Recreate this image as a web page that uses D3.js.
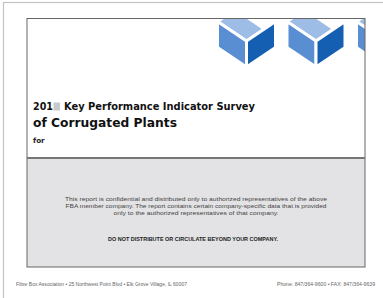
<!DOCTYPE html>
<html>
<head>
<meta charset="utf-8">
<script src="https://cdn.jsdelivr.net/npm/d3@7"></script>
<style>
  body { margin: 0; background: #fff; }
  svg { display: block; }
</style>
</head>
<body>
<svg id="page"></svg>
<script>
// DATA

const titleLines = ["201", "Key Performance Indicator Survey", "of Corrugated Plants", "for"];

const noticeLines = [
  "This report is confidential and distributed only to authorized representatives of the above",
  "FBA member company. The report contains certain company-specific data that is provided",
  "only to the authorized representatives of that company."
];

const warning = "DO NOT DISTRIBUTE OR CIRCULATE BEYOND YOUR COMPANY.";

const footerLeft = "Fibre Box Association \u2022 25 Northwest Point Blvd \u2022 Elk Grove Village, IL 60007";
const footerRight = "Phone: 847/364-9600  \u2022  FAX: 847/364-9639";

const cubes = [0, 1, 2];
const faceColors = ["#9dbde6", "#5a8ed2", "#155fb2"];

const width = 383;
const height = 298;

const svg = d3.select("#page")
  .attr("width", width)
  .attr("height", height);

// OUTER PAGE

svg.append("rect")
  .attr("x", 3.5).attr("y", 2.5)
  .attr("width", 400).attr("height", 320)
  .attr("fill", "#fff")
  .attr("stroke", "#c4c4c4")
  .attr("stroke-width", 1.2);

// INNER BOX

const box = { x: 27, y: 18.5, w: 338, top: 158, bottom: 267 };

svg.append("defs")
  .append("clipPath").attr("id", "boxClip")
  .append("rect")
  .attr("x", box.x).attr("y", box.y)
  .attr("width", box.w).attr("height", box.top - box.y);

svg.append("rect")
  .attr("x", box.x).attr("y", box.top)
  .attr("width", box.w).attr("height", box.bottom - box.top)
  .attr("fill", "#e3e3e5");

// CUBES (top face cut short on the right, like the logo)

const cx = d3.scaleLinear().domain([0, 1]).range([246.5, 316]);

const cubeG = svg.append("g").attr("clip-path", "url(#boxClip)");

cubes.forEach(i => {
  const x = cx(i), y = 41;
  const dx = 29, dy = 19.5, h = 26;
  const k = 0.62;
  const faces = [
    [[x, y], [x - dx, y - dy], [x - dx + k * dx, y - dy - k * dy], [x + k * dx, y - k * dy]],
    [[x, y], [x - dx, y - dy], [x - dx, y - dy + h], [x, y + h]],
    [[x, y], [x + dx, y - dy], [x + dx, y - dy + h], [x, y + h]]
  ];
  cubeG.selectAll(null)
    .data(faces)
    .enter()
    .append("polygon")
    .attr("points", d => d.map(p => p.join(",")).join(" "))
    .attr("fill", (d, j) => faceColors[j])
    .attr("stroke", "#fff")
    .attr("stroke-width", 3)
    .attr("stroke-linejoin", "miter");
});

// BOX BORDERS

svg.append("rect")
  .attr("x", box.x).attr("y", box.y)
  .attr("width", box.w).attr("height", box.bottom - box.y)
  .attr("fill", "none")
  .attr("stroke", "#666")
  .attr("stroke-width", 1);

svg.append("line")
  .attr("x1", box.x).attr("x2", box.x + box.w)
  .attr("y1", box.top).attr("y2", box.top)
  .attr("stroke", "#777")
  .attr("stroke-width", 2);

// TITLE

const font = "'Liberation Sans', Arial, sans-serif";
const titleFont = "'DejaVu Sans', sans-serif";

svg.append("text")
  .attr("x", 33).attr("y", 110)
  .attr("font-family", titleFont)
  .attr("font-weight", "bold")
  .attr("font-size", 9.8)
  .attr("fill", "#111")
  .attr("textLength", 20)
  .attr("lengthAdjust", "spacingAndGlyphs")
  .text(titleLines[0]);

svg.append("rect")
  .attr("x", 53.5).attr("y", 102.5)
  .attr("width", 6.5).attr("height", 8)
  .attr("fill", "#c9c9cc");

svg.append("text")
  .attr("x", 64).attr("y", 110)
  .attr("font-family", titleFont)
  .attr("font-weight", "bold")
  .attr("font-size", 9.8)
  .attr("fill", "#111")
  .attr("textLength", 191)
  .attr("lengthAdjust", "spacingAndGlyphs")
  .text(titleLines[1]);

svg.append("text")
  .attr("x", 33).attr("y", 127)
  .attr("font-family", titleFont)
  .attr("font-weight", "bold")
  .attr("font-size", 13)
  .attr("fill", "#111")
  .attr("textLength", 144)
  .attr("lengthAdjust", "spacingAndGlyphs")
  .text(titleLines[2]);

svg.append("text")
  .attr("x", 33).attr("y", 143)
  .attr("font-family", titleFont)
  .attr("font-weight", "bold")
  .attr("font-size", 7.2)
  .attr("fill", "#222")
  .text(titleLines[3]);

// NOTICE

const noticeWidths = [262, 261, 165];

svg.selectAll(".notice")
  .data(noticeLines)
  .enter()
  .append("text")
  .attr("class", "notice")
  .attr("x", 196)
  .attr("y", (d, i) => 201 + i * 7)
  .attr("text-anchor", "middle")
  .attr("font-family", font)
  .attr("font-size", 5.4)
  .attr("fill", "#444")
  .attr("textLength", (d, i) => noticeWidths[i])
  .attr("lengthAdjust", "spacingAndGlyphs")
  .text(d => d);

svg.append("text")
  .attr("x", 193).attr("y", 241)
  .attr("text-anchor", "middle")
  .attr("font-family", font)
  .attr("font-weight", "bold")
  .attr("font-size", 5.2)
  .attr("fill", "#222")
  .attr("textLength", 170)
  .attr("lengthAdjust", "spacingAndGlyphs")
  .text(warning);

// FOOTER

svg.append("text")
  .attr("x", 16).attr("y", 286)
  .attr("font-family", font)
  .attr("font-size", 4.6)
  .attr("fill", "#666")
  .attr("textLength", 171)
  .attr("lengthAdjust", "spacingAndGlyphs")
  .text(footerLeft);

svg.append("text")
  .attr("x", 375).attr("y", 286)
  .attr("text-anchor", "end")
  .attr("font-family", font)
  .attr("font-size", 4.6)
  .attr("fill", "#666")
  .attr("textLength", 98)
  .attr("lengthAdjust", "spacingAndGlyphs")
  .text(footerRight);
</script>
</body>
</html>
